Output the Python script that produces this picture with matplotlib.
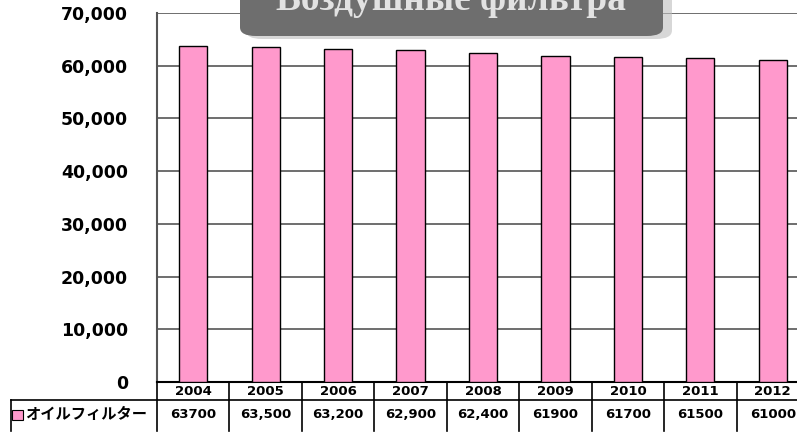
import matplotlib
matplotlib.use('Agg')
import matplotlib.pyplot as plt
from matplotlib.patches import FancyBboxPatch, Rectangle
import numpy as np

years = ['2004', '2005', '2006', '2007', '2008', '2009', '2010', '2011', '2012']
values = [63700, 63500, 63200, 62900, 62400, 61900, 61700, 61500, 61000]
value_labels = ['63700', '63,500', '63,200', '62,900', '62,400', '61900', '61700', '61500', '61000']
series_name = 'オイルフィルター'
title = 'Воздушные фильтра'

bar_color = '#FF99CC'
grid_color = '#555555'

W, H = 797, 433
fig = plt.figure(figsize=(W / 100, H / 100), dpi=100)
# axes runs past the right edge, as in the cropped original
ax = fig.add_axes([157 / W, (H - 382) / H, 652 / W, 369 / H])

x = np.arange(len(years))
ax.bar(x, values, width=0.39, color=bar_color, edgecolor='black', linewidth=1.0, zorder=3)

ax.set_xlim(-0.5, len(years) - 0.5)
ax.set_ylim(0, 70000)
ax.set_yticks(range(0, 70001, 10000))
ax.set_yticklabels([f'{v:,}' for v in range(0, 70001, 10000)],
                   fontsize=12.5, fontweight='bold', family='DejaVu Sans')
ax.tick_params(axis='y', length=0, pad=21)
ax.set_xticks([])
ax.yaxis.grid(True, color=grid_color, linewidth=1.2, zorder=0)

for s in ['right', 'top']:
    ax.spines[s].set_visible(False)
ax.spines['left'].set_color('#555555')
ax.spines['left'].set_linewidth(1.5)
ax.spines['bottom'].set_color('black')
ax.spines['bottom'].set_linewidth(1.5)

# data table under the plot
tr = ax.get_xaxis_transform()
row1 = -18 / 369
row2 = -49 / 369
lab_left = (11 - 157) / 652 * len(years) - 0.5
line_kw = dict(color='black', linewidth=1.2, clip_on=False, transform=tr)
ax.plot([lab_left, len(years) - 0.5], [row1, row1], **line_kw)
ax.plot([lab_left, lab_left], [row1, row2], **line_kw)
ax.plot([-0.5, -0.5], [0, row2], **line_kw)
for i in range(len(years)):
    ax.plot([i + 0.5, i + 0.5], [0, row2], **line_kw)
    ax.text(i, row1 / 2 - 0.002, years[i], transform=tr, ha='center', va='center',
            fontsize=9.5, fontweight='bold', family='DejaVu Sans')
    ax.text(i, (row1 + row2) / 2 + 0.003, value_labels[i], transform=tr, ha='center',
            va='center', fontsize=9.5, fontweight='bold', family='DejaVu Sans')

# legend key + series name in the label cell
ax.add_patch(Rectangle((lab_left + 0.02, (row1 + row2) / 2 - 0.012), 0.14, 0.028,
                       transform=tr, facecolor=bar_color, edgecolor='black',
                       linewidth=0.8, clip_on=False))
ax.text(lab_left + 0.2, (row1 + row2) / 2 + 0.003, series_name, transform=tr,
        ha='left', va='center', fontsize=11, fontweight='bold',
        family=['Noto Sans CJK JP', 'DejaVu Sans'])

# title banner (cut off at the top)
def px(xp, yp):
    return xp / W, (H - yp) / H

sx, sy = px(246, 39)
fig.patches.append(FancyBboxPatch((sx, sy), 426 / W, 80 / H,
                                  boxstyle='round,pad=0,rounding_size=0.02',
                                  transform=fig.transFigure, facecolor='#bdbdbd',
                                  edgecolor='none', alpha=0.6, zorder=4))
bx, by = px(240, 36)
fig.patches.append(FancyBboxPatch((bx, by), 423 / W, 80 / H,
                                  boxstyle='round,pad=0,rounding_size=0.02',
                                  transform=fig.transFigure, facecolor='#6e6e6e',
                                  edgecolor='none', zorder=5))
tx, ty = px(451, 10)
fig.text(tx, ty, title, ha='center', va='baseline', color='#e2e2e2', fontsize=27,
         fontweight='bold', family='Liberation Serif', zorder=6)

fig.savefig('out.png', dpi=100)
